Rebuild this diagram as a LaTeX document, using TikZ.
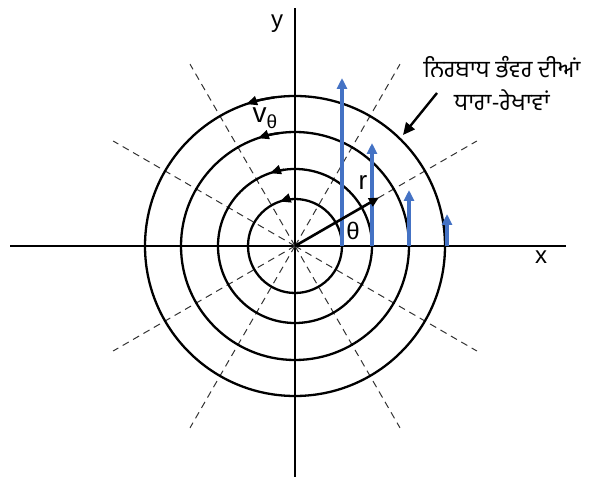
\documentclass[tikz,border=0pt]{standalone}
\usepackage{fontspec}
\setmainfont{Liberation Sans}
\newfontfamily\gurfont[Script=Gurmukhi]{Hind Jalandhar}
\usetikzlibrary{arrows.meta,calc}
\definecolor{vblue}{HTML}{4472C4}
\begin{document}
\begin{tikzpicture}[x=1pt,y=1pt,
  axisline/.style={line width=1.3pt,black},
  ray/.style={dashed,dash pattern=on 7pt off 5pt,line width=1pt,black!80},
  stream/.style={line width=2.3pt,black},
  flowtip/.style={line width=2.3pt,-{Triangle[length=11pt,width=9pt]}},
  velarrow/.style={line width=3.4pt,vblue,-{Triangle[length=11pt,width=10pt]}},
  lbl/.style={inner sep=0pt,font=\fontsize{24}{24}\selectfont},
  pointer/.style={line width=2.4pt,-{Triangle[length=12pt,width=11pt]}}]
\useasboundingbox (0,0) rectangle (589,479);
\coordinate (O) at (295,233);
% axes
\coordinate (xl) at (10,233);
\coordinate (xr) at (566,233);
\coordinate (yb) at (295,2);
\coordinate (yt) at (295,471);
\draw[axisline] (xl) -- (xr);
\draw[axisline] (yb) -- (yt);
% radial dashed lines
\foreach \a in {30,60,120,150,210,240,300,330}
  \draw[ray] (O) -- ++(\a:210);
% streamlines
\foreach \r in {47,77,114,150}{
  \draw[stream] (O) circle (\r);
  \draw[flowtip] (O) ++(98:\r) arc (98:109:\r);
}
% velocity arrows
\coordinate (b1) at (342,233); \coordinate (t1) at (342,401);
\coordinate (b2) at (372,233); \coordinate (t2) at (372,336);
\coordinate (b3) at (409,233); \coordinate (t3) at (409,289);
\coordinate (b4) at (447,233); \coordinate (t4) at (447,265);
\draw[velarrow] (b1) -- (t1);
\draw[velarrow] (b2) -- (t2);
\draw[velarrow] (b3) -- (t3);
\draw[velarrow] (b4) -- (t4);
% radius arrow
\coordinate (rend) at ($(O)+(30:97)$);
\draw[line width=2.6pt,-{Triangle[length=10pt,width=9pt]}] (O) -- (rend);
% labels
\node[lbl] (ylab) at (277,455) {y};
\node[lbl] (xlab) at (541,222) {x};
\node[lbl,font=\fontsize{26}{26}\selectfont] (rlab) at (363,296) {r};
\node[lbl] (thlab) at (353,248) {θ};
\node[inner sep=0pt] (vlab) at (265,361) {\fontsize{28}{28}\selectfont v\raisebox{-6pt}{\fontsize{19}{19}\selectfont θ}};
% annotation
\node[align=center,inner sep=0pt,font=\gurfont\fontsize{23.5}{33}\selectfont] (note) at (502,396) {ਨਿਰਬਾਧ ਭੰਵਰ ਦੀਆਂ\\ਧਾਰਾ-ਰੇਖਾਵਾਂ};
\coordinate (ps) at (437,386);
\coordinate (pe) at (403,344);
\draw[pointer] (ps) -- (pe);
\end{tikzpicture}
\end{document}
